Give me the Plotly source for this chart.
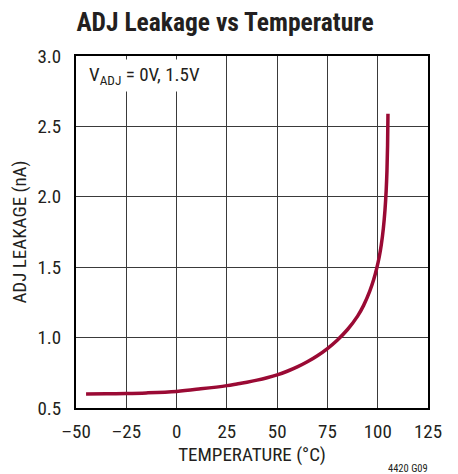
import plotly.graph_objects as go

# Data
temperature_c = [-45, -35, -25, -15, 0, 12, 25, 30, 35, 40, 45, 50, 55, 60, 65, 70, 75, 80, 85, 90, 93, 96, 98, 99.5, 100.8, 101.8, 102.8, 103.6, 104.2, 104.6, 104.9, 105.1]
leakage_na = [0.600, 0.601, 0.603, 0.607, 0.618, 0.636, 0.659, 0.671, 0.6835, 0.698, 0.715, 0.735, 0.761, 0.792, 0.8285, 0.8715, 0.9225, 0.9835, 1.0575, 1.1525, 1.229, 1.328, 1.412, 1.4915, 1.576, 1.661, 1.776, 1.904, 2.042, 2.186, 2.366, 2.59]

x_ticks = [-50, -25, 0, 25, 50, 75, 100, 125]
x_ticktext = ["–50", "–25", "0", "25", "50", "75", "100", "125"]
y_ticks = [0.5, 1.0, 1.5, 2.0, 2.5, 3.0]
y_ticktext = ["0.5", "1.0", "1.5", "2.0", "2.5", "3.0"]

FONT = "Liberation Sans Narrow, Roboto Condensed, DejaVu Sans Condensed, Arial Narrow, sans-serif"
TXT = "#231f20"

# page has an 8px body margin, so the figure is 8px smaller and shifted
W, H = 450, 466

fig = go.Figure()
fig.add_trace(go.Scatter(
    x=temperature_c, y=leakage_na, mode="lines",
    line=dict(color="#9a0a34", width=3.5, shape="spline", smoothing=1.0),
    hoverinfo="skip", showlegend=False,
))

fig.update_layout(
    width=W, height=H,
    margin=dict(l=68, r=30, t=48, b=66),
    paper_bgcolor="white", plot_bgcolor="white",
    font=dict(family=FONT, color=TXT, size=18),
    title=dict(text="<b>ADJ Leakage vs Temperature</b>", x=217 / W, xanchor="center",
               y=1 - 14 / H, yanchor="middle", yref="container",
               font=dict(family=FONT, size=25.5, color=TXT)),
    xaxis=dict(range=[-50, 125], tickvals=x_ticks, ticktext=x_ticktext,
               showgrid=True, gridcolor="#3a3a3a", gridwidth=1,
               showline=True, linecolor="black", linewidth=2, mirror=True,
               ticks="", zeroline=False, ticklabelstandoff=5, automargin=False,
               tickfont=dict(size=19),
               title=dict(text="TEMPERATURE (°C)", standoff=6,
                          font=dict(family=FONT, size=19, color=TXT))),
    yaxis=dict(range=[0.5, 3.0], tickvals=y_ticks, ticktext=y_ticktext,
               showgrid=True, gridcolor="#3a3a3a", gridwidth=1,
               showline=True, linecolor="black", linewidth=2, mirror=True,
               ticks="", zeroline=False, ticklabelstandoff=9, automargin=False,
               tickfont=dict(size=19),
               title=dict(text="ADJ LEAKAGE (nA)", standoff=8,
                          font=dict(family=FONT, size=19, color=TXT))),
    annotations=[
        dict(text="V<sub>ADJ</sub> = 0V, 1.5V", xref="paper", yref="paper",
             x=0.026, y=0.946, xanchor="left", yanchor="middle", showarrow=False,
             bgcolor="white", borderpad=3, font=dict(family=FONT, size=19, color=TXT)),
        dict(text="4420 G09", xref="paper", yref="paper", x=1.006, y=-0.1705,
             xanchor="right", yanchor="middle", showarrow=False,
             font=dict(family=FONT, size=10.5, color=TXT)),
    ],
)

fig.write_html("out.html")
